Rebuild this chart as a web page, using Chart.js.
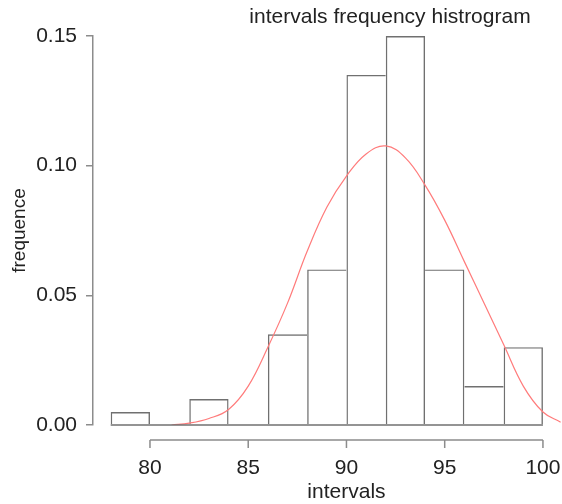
<!DOCTYPE html>
<html><head><meta charset="utf-8">
<script src="https://cdn.jsdelivr.net/npm/chart.js@4/dist/chart.umd.min.js"></script>
<style>html,body{margin:0;padding:0;background:#fff}#wrap{width:562px;height:504px}</style>
</head><body><div id="wrap"><canvas id="c" width="562" height="504"></canvas></div>
<script>
const chartTitle = 'intervals frequency histrogram';
const xTitle = 'intervals';
const yTitle = 'frequence';
const binStarts = [78, 80, 82, 84, 86, 88, 90, 92, 94, 96, 98];
const binWidth = 2;
const binDensity = [0.005, 0, 0.01, 0, 0.035, 0.06, 0.135, 0.15, 0.06, 0.015, 0.03];
const curveX = [81.1, 82, 83, 84, 85, 86, 87, 88, 89, 90, 91, 92, 93, 94, 95, 96, 97, 98, 99, 100, 100.9];
const curveY = [0, 0.0007, 0.0025, 0.006, 0.015, 0.030, 0.047, 0.067, 0.084, 0.096, 0.1045, 0.1076, 0.103, 0.0925, 0.079, 0.063, 0.047, 0.031, 0.0150, 0.0050, 0.0011];
const xTicks = [80, 85, 90, 95, 100];
const yTicks = [0, 0.05, 0.10, 0.15];

const FONT = "'Liberation Sans', Arial, Helvetica, sans-serif";
const TXT = '#222';
const AXIS = '#8c8c8c';
const BARLINE = '#707070';
const BW = 1.4;

const rAxes = {
  id: 'rAxes',
  afterDatasetsDraw(chart) {
    const ctx = chart.ctx, xs = chart.scales.x, ys = chart.scales.y, ca = chart.chartArea;
    ctx.save();
    ctx.strokeStyle = BARLINE; ctx.lineWidth = BW;
    const y0 = ys.getPixelForValue(0);
    ctx.beginPath();
    ctx.moveTo(xs.getPixelForValue(binStarts[0]), y0);
    ctx.lineTo(xs.getPixelForValue(binStarts[binStarts.length - 1] + binWidth), y0);
    ctx.stroke();
    const ya = ca.bottom + 15;
    ctx.strokeStyle = AXIS; ctx.lineWidth = 1.5;
    ctx.beginPath();
    ctx.moveTo(xs.getPixelForValue(xTicks[0]), ya);
    ctx.lineTo(xs.getPixelForValue(xTicks[xTicks.length - 1]), ya);
    xTicks.forEach(v => {
      const p = xs.getPixelForValue(v);
      ctx.moveTo(p, ya); ctx.lineTo(p, ya + 8);
    });
    ctx.stroke();
    ctx.fillStyle = TXT;
    ctx.font = '21px ' + FONT;
    ctx.textAlign = 'center'; ctx.textBaseline = 'middle';
    ctx.fillText(chartTitle, 390, 17);
    ctx.fillText(xTitle, xs.getPixelForValue(90), 492);
    ctx.restore();
  }
};

function barEdges(c) {
  const i = c.dataIndex, h = binDensity;
  if (i === undefined) return BW;
  if (!h[i]) return 0;
  return {
    left: (i === 0 || h[i] > h[i - 1]) ? BW : 0,
    right: (i === h.length - 1 || h[i] >= h[i + 1]) ? BW : 0,
    top: BW,
    bottom: 0
  };
}

new Chart(document.getElementById('c'), {
  type: 'bar',
  data: {
    datasets: [
      {
        type: 'line',
        label: 'density',
        data: curveX.map((x, i) => ({ x: x, y: curveY[i] })),
        borderColor: '#ff7b7b',
        borderWidth: 1.2,
        pointRadius: 0,
        tension: 0.4,
        fill: false,
        order: 0
      },
      {
        label: 'frequence',
        data: binStarts.map((s, i) => ({ x: s + binWidth / 2, y: binDensity[i] })),
        backgroundColor: 'rgba(0,0,0,0)',
        borderColor: BARLINE,
        borderWidth: barEdges,
        borderSkipped: false,
        inflateAmount: 0,
        barPercentage: 1,
        categoryPercentage: 1,
        order: 1
      }
    ]
  },
  options: {
    responsive: false,
    animation: false,
    devicePixelRatio: 1,
    layout: { padding: { top: 36, left: 0, right: 0, bottom: 0 } },
    plugins: { legend: { display: false }, tooltip: { enabled: false }, title: { display: false } },
    scales: {
      x: {
        type: 'linear',
        min: 77.1,
        max: 100.97,
        offset: false,
        border: { display: false },
        grid: { display: false, drawTicks: false },
        afterBuildTicks: s => { s.ticks = xTicks.map(v => ({ value: v })); },
        afterFit: s => { s.height = 79; s.paddingLeft = 0; s.paddingRight = 0; },
        ticks: { padding: 31, color: TXT, font: { family: FONT, size: 21 }, maxRotation: 0, autoSkip: false,
                 callback: v => String(v) }
      },
      y: {
        min: 0,
        max: 0.15,
        border: { display: true, color: AXIS, width: 1.5 },
        grid: { drawOnChartArea: false, drawTicks: true, tickLength: 7, color: AXIS, lineWidth: 1.5 },
        afterBuildTicks: s => { s.ticks = yTicks.map(v => ({ value: v })); },
        afterFit: s => { s.width = 93; s.paddingTop = 0; s.paddingBottom = 0; },
        ticks: { padding: 9, color: TXT, font: { family: FONT, size: 21 }, callback: v => v.toFixed(2) },
        title: { display: true, text: yTitle, color: TXT, font: { family: FONT, size: 19 }, padding: { top: 8, bottom: 0 } }
      }
    }
  },
  plugins: [rAxes]
});
</script>
</body></html>
